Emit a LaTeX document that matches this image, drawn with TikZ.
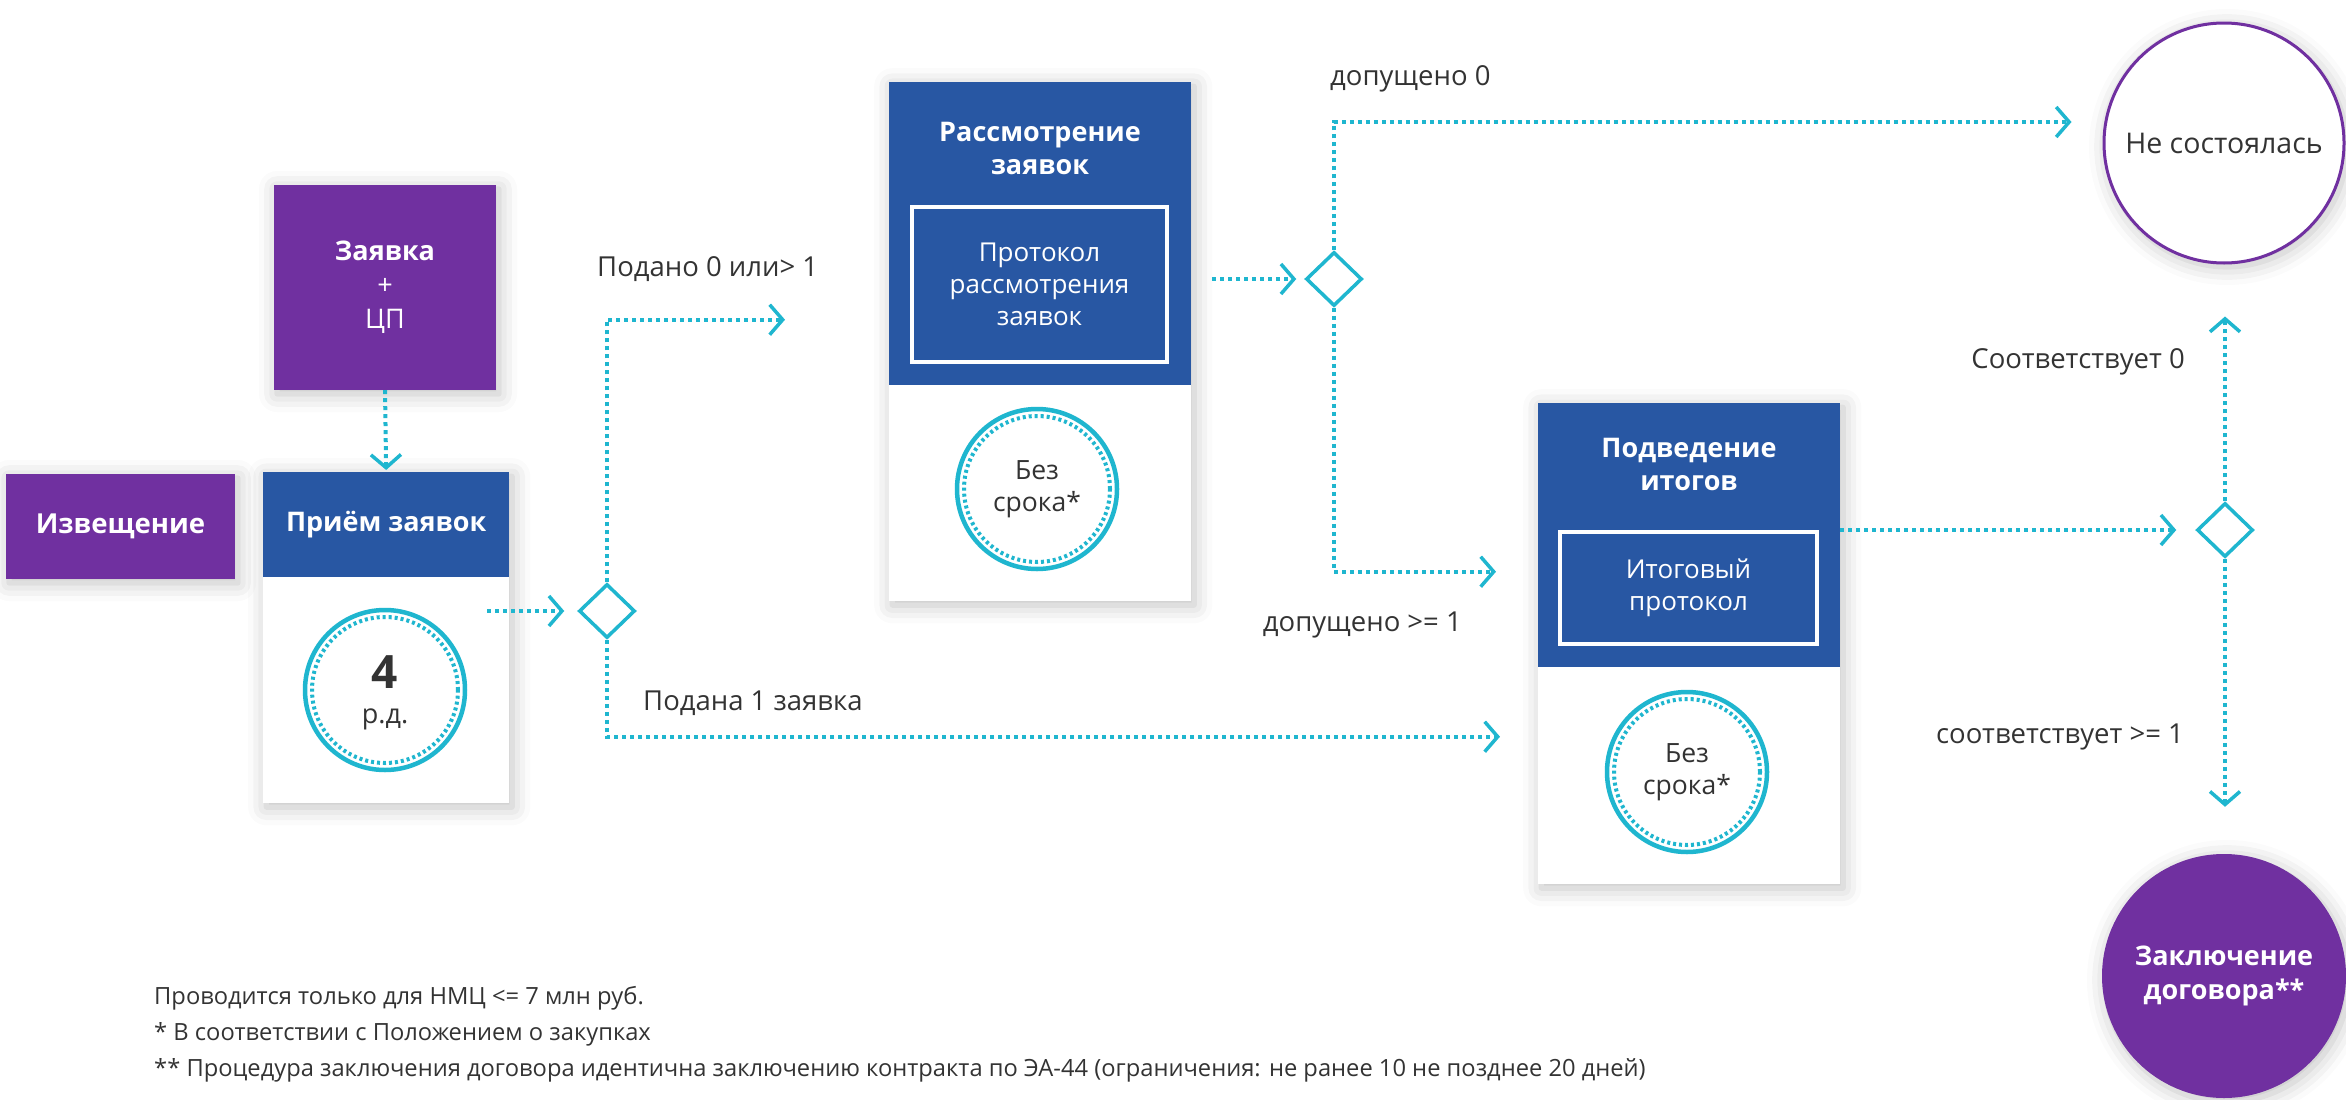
\documentclass[tikz,border=0pt]{standalone}
\usepackage{fontspec}
\setmainfont{Open Sans}
\usetikzlibrary{arrows.meta,shadows.blur,shapes.geometric,calc}
\definecolor{cpurple}{RGB}{112,48,160}
\definecolor{cblue}{RGB}{40,87,163}
\definecolor{cteal}{RGB}{31,182,207}
\definecolor{ctext}{RGB}{51,51,51}
\tikzset{
  lbl/.style={font=\fontsize{27.5}{32}\selectfont, text=ctext, inner sep=0pt},
  foot/.style={font=\fontsize{23.7}{36}\selectfont, text=ctext, inner sep=0pt, anchor=west},
  flow/.style={draw=cteal, line width=4pt, dash pattern=on 4pt off 4pt,
    -{Straight Barb[length=13pt,width=30pt,line width=3.5pt]}},
  gate/.style={diamond, draw=cteal, line width=3.5pt, fill=white, minimum width=56pt,
    minimum height=54pt, inner sep=0pt},
  softshadow/.style={blur shadow={shadow xshift=3pt, shadow yshift=-4pt,
    shadow blur radius=18pt, shadow opacity=25}},
  cardbody/.style={fill=white, softshadow, anchor=north west, inner sep=0pt},
  hdr/.style={fill=cblue, anchor=north west, inner sep=0pt, text=white,
    font=\fontsize{27}{33}\selectfont\bfseries, align=center},
  pbox/.style={fill=cpurple, softshadow, inner sep=0pt, text=white, align=center,
    font=\fontsize{27}{34}\selectfont},
  inbox/.style={draw=white, line width=4pt, inner sep=0pt, text=white, align=center,
    font=\fontsize{26}{32}\selectfont},
  ttl/.style={text=white, inner sep=0pt, align=center, font=\fontsize{27}{33}\selectfont\bfseries},
  ring/.style={circle, draw=cteal, line width=4.5pt, minimum size=160pt, inner sep=0pt,
    text=ctext, align=center, font=\fontsize{26.5}{32}\selectfont},
  innerring/.style={draw=cteal, line width=4pt, dash pattern=on 3pt off 3pt}
}
\begin{document}
\begin{tikzpicture}[x=1pt,y=-1pt]
\useasboundingbox (0,0) rectangle (2346,1100);

% left boxes
\node[pbox, font=\fontsize{27.5}{34}\selectfont\bfseries, minimum width=229pt, minimum height=105pt] (izv) at (120.5,526.5) {Извещение};
\node[pbox, minimum width=222pt, minimum height=205pt] (zay) at (385,287.5) {\textbf{Заявка}\\+\\ЦП};

% card 1
\node[cardbody, minimum width=246pt, minimum height=331pt] (c1) at (263,472) {};
\node[hdr, minimum width=246pt, minimum height=105pt] (h1) at (263,472) {Приём заявок};
\node[ring] (r1) at (385,690) {};
\draw[innerring] (r1.center) circle (73pt);
\node[inner sep=0pt, text=ctext, font=\fontsize{46}{46}\selectfont\bfseries] (n4) at (385,672) {4};
\node[inner sep=0pt, text=ctext, font=\fontsize{27}{32}\selectfont] (rd) at (385,719) {р.д.};

% card 2
\node[cardbody, minimum width=302pt, minimum height=519pt] (c2) at (889,82) {};
\node[hdr, minimum width=302pt, minimum height=303pt] (h2) at (889,82) {};
\node[ttl] (t2) at (1040,148) {Рассмотрение\\заявок};
\node[inbox, minimum width=255pt, minimum height=155pt] (p2) at (1039.5,284.5) {Протокол\\рассмотрения\\заявок};
\node[ring] (r2) at (1037,489) {Без\\срока*};
\draw[innerring] (r2.center) circle (73pt);

% card 3
\node[cardbody, minimum width=302pt, minimum height=481pt] (c3) at (1538,403) {};
\node[hdr, minimum width=302pt, minimum height=264pt] (h3) at (1538,403) {};
\node[ttl] (t3) at (1689,464) {Подведение\\итогов};
\node[inbox, minimum width=257pt, minimum height=112pt] (p3) at (1688.5,588) {Итоговый\\протокол};
\node[ring] (r3) at (1687,772) {Без\\срока*};
\draw[innerring] (r3.center) circle (73pt);

% end states
\node[circle, draw=cpurple, line width=3pt, fill=white, softshadow, minimum size=240pt, inner sep=0pt,
  text=ctext, font=\fontsize{28.5}{32}\selectfont] (nost) at (2224,143) {Не состоялась};
\node[circle, fill=cpurple, softshadow, minimum size=244pt, inner sep=0pt, text=white, align=center,
  font=\fontsize{27}{34}\selectfont\bfseries] (zak) at (2224,976) {Заключение\\договора**};

% gateways
\node[gate] (d1) at (607,611) {};
\node[gate] (d2) at (1334,279) {};
\node[gate] (d3) at (2225,530) {};

% connectors
\draw[flow, shorten >=2pt] (zay.south) -- (h1.north);
\draw[flow, shorten >=13pt] ([xshift=-22pt]c1.east |- d1.west) -- (d1.west);
\draw[flow, shorten >=104pt] (d1.north) |- ([yshift=22pt]c2.west);
\draw[flow, shorten >=38pt] (d1.south) |- ([yshift=-93pt]c3.west);
\draw[flow, shorten >=8pt] ([xshift=21pt]c2.east |- d2.west) -- (d2.west);
\draw[flow, shorten >=31pt] (d2.north) |- ([yshift=21pt]nost.west);
\draw[flow, shorten >=42pt] (d2.south) |- ([yshift=72pt]c3.west);
\draw[flow, shorten >=19pt] (c3.east |- d3.west) -- (d3.west);
\draw[flow, shorten >=52pt] (d3.north) -- (d3.north |- nost.south);
\draw[flow, shorten >=47pt] (d3.south) -- (d3.south |- zak.north);

% labels
\node[lbl, anchor=west] (l1) at (597,269) {Подано 0 или> 1};
\node[lbl, anchor=west] (l2) at (643,703) {Подана 1 заявка};
\node[lbl, anchor=west] (l3) at (1330,79) {допущено 0};
\node[lbl, anchor=east] (l4) at (1462,625) {допущено >= 1};
\node[lbl, anchor=east] (l5) at (2185,362) {Соответствует 0};
\node[lbl, anchor=east] (l6) at (2184,737) {соответствует >= 1};

% footnotes
\node[foot] (f1) at (154,998) {Проводится только для НМЦ <= 7 млн руб.};
\node[foot] (f2) at (154,1034) {* В соответствии с Положением о закупках};
\node[foot] (f3) at (154,1070) {** Процедура заключения договора идентична заключению контракта по ЭА-44 (ограничения: не ранее 10 не позднее 20 дней)};
\end{tikzpicture}
\end{document}
